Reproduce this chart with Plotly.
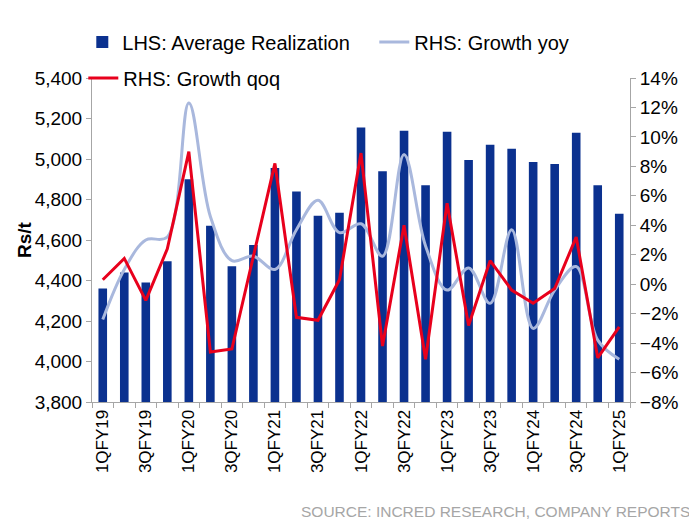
import plotly.graph_objects as go

quarters = ["1QFY19","2QFY19","3QFY19","4QFY19","1QFY20","2QFY20","3QFY20","4QFY20",
            "1QFY21","2QFY21","3QFY21","4QFY21","1QFY22","2QFY22","3QFY22","4QFY22",
            "1QFY23","2QFY23","3QFY23","4QFY23","1QFY24","2QFY24","3QFY24","4QFY24","1QFY25"]
tick_labels = [q if q[0] in "13" else "" for q in quarters]

avg_realization = [4360, 4440, 4390, 4495, 4900, 4670, 4470, 4575, 4955, 4840, 4720, 4735,
                   5155, 4940, 5140, 4870, 5135, 4995, 5070, 5050, 4985, 4975, 5130, 4870, 4730]
growth_yoy = [-2.4, 1.0, 3.0, 3.2, 12.3, 4.6, 1.6, 1.9, 1.0, 3.7, 5.7, 3.5,
              4.1, 1.9, 8.8, 2.6, -0.4, 1.1, -1.3, 3.7, -3.0, -0.4, 1.2, -3.8, -5.1]
growth_qoq = [0.3, 1.75, -1.1, 2.4, 9.0, -4.6, -4.4, 1.9, 8.2, -2.25, -2.45, 0.3,
              8.9, -4.2, 4.0, -5.1, 5.5, -2.8, 1.6, -0.4, -1.3, -0.3, 3.2, -5.0, -2.9]

font_family = "Liberation Sans, Arial, sans-serif"

# page body has an 8px margin, so the figure is drawn 8px in from the window corner
W, H = 689, 513
L, T, R, B = 84, 70, 67, 119
pw, ph = W - L - R, H - T - B

fig = go.Figure()
fig.add_trace(go.Bar(x=quarters, y=avg_realization, name="LHS: Average Realization",
                     marker=dict(color="#0B318F", line=dict(width=0)), width=0.4,
                     legend="legend", showlegend=True))
fig.add_trace(go.Scatter(x=quarters, y=growth_yoy, name="RHS: Growth yoy", yaxis="y2",
                         mode="lines", line=dict(color="#A9B8DD", width=3, shape="spline", smoothing=1.0),
                         legend="legend3", showlegend=True))
fig.add_trace(go.Scatter(x=quarters, y=growth_qoq, name="RHS: Growth qoq", yaxis="y2",
                         mode="lines", line=dict(color="#E8001C", width=3),
                         legend="legend2", showlegend=True))

axis_line = "#A6A6A6"
legend_common = dict(orientation="h", xref="container", yref="container", xanchor="left",
                     yanchor="middle", font=dict(size=20), bgcolor="rgba(0,0,0,0)")
fig.update_layout(
    width=W, height=H, showlegend=True,
    margin=dict(l=L, r=R, t=T, b=B, autoexpand=False),
    paper_bgcolor="white", plot_bgcolor="white",
    font=dict(family=font_family, size=19, color="#000000"),
    xaxis=dict(type="category", tickmode="array", tickvals=quarters, ticktext=tick_labels,
               tickson="boundaries", ticks="outside", ticklen=5, tickcolor=axis_line,
               showline=True, linecolor=axis_line, linewidth=1, tickangle=-90,
               showgrid=False, tickfont=dict(size=17), range=[-0.5, 24.5], automargin=False),
    yaxis=dict(range=[3800, 5400], dtick=200, tickformat=",", showgrid=False,
               showline=True, linecolor=axis_line, linewidth=1, ticks="outside", ticklen=5,
               tickcolor=axis_line, zeroline=False, automargin=False, tickfont=dict(size=19)),
    yaxis2=dict(range=[-8, 14], dtick=2, ticksuffix="%", overlaying="y", side="right",
                showgrid=False, showline=True, linecolor=axis_line, linewidth=1,
                ticks="outside", ticklen=5, tickcolor=axis_line, zeroline=False,
                automargin=False, tickfont=dict(size=19)),
    legend=dict(x=74.3 / W, y=1 - 34 / H, **legend_common),
    legend3=dict(x=366.3 / W, y=1 - 34 / H, **legend_common),
    legend2=dict(x=75.3 / W, y=1 - 70 / H, **legend_common),
    annotations=[
        dict(text="<b>Rs/t</b>", xref="paper", yref="paper", x=(16 - L) / pw, y=0.5,
             xanchor="center", yanchor="middle", textangle=-90, showarrow=False,
             font=dict(size=19, color="#000000")),
        dict(text="SOURCE: INCRED RESEARCH, COMPANY REPORTS", xref="paper", yref="paper",
             x=(684 - L) / pw, y=(ph - (503 - T)) / ph, xanchor="right", yanchor="middle",
             showarrow=False, font=dict(size=15.5, color="#A6A6A6")),
    ],
)

fig.write_html("out.html")
